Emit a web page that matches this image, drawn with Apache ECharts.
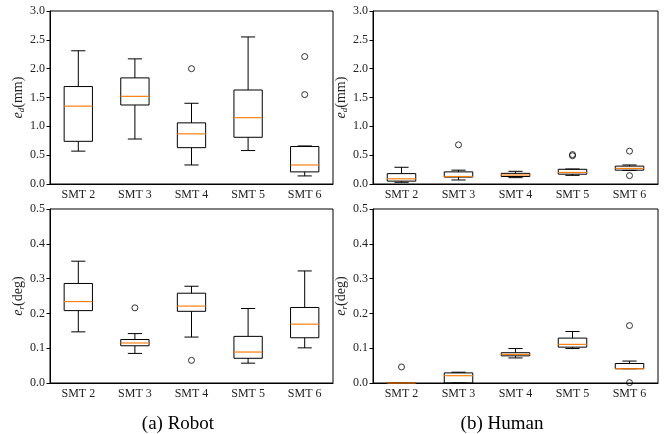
<!DOCTYPE html>
<html>
<head>
<meta charset="utf-8">
<script src="https://cdn.jsdelivr.net/npm/echarts@6/dist/echarts.min.js"></script>
<style>
html,body{margin:0;padding:0;background:#fff}
#chart{width:667px;height:434px}
</style>
</head>
<body>
<div id="chart"></div>
<script>
var categories = ['SMT 2', 'SMT 3', 'SMT 4', 'SMT 5', 'SMT 6'];

// each row: [lower whisker, Q1, median, Q3, upper whisker]
var robotDist = [
	[0.57, 0.74, 1.35, 1.69, 2.31],
	[0.78, 1.37, 1.52, 1.84, 2.17],
	[0.33, 0.63, 0.87, 1.06, 1.40],
	[0.58, 0.81, 1.15, 1.63, 2.55],
	[0.14, 0.21, 0.33, 0.65, 0.66]
];
var robotDistOutliers = [[2, 2.00], [4, 2.21], [4, 1.55]];

var humanDist = [
	[0.03, 0.05, 0.09, 0.18, 0.29],
	[0.07, 0.12, 0.13, 0.21, 0.24],
	[0.11, 0.13, 0.155, 0.185, 0.22],
	[0.15, 0.17, 0.20, 0.255, 0.26],
	[0.235, 0.24, 0.27, 0.31, 0.33]
];
var humanDistOutliers = [[1, 0.68], [3, 0.49], [3, 0.51], [4, 0.57], [4, 0.145]];

var robotRot = [
	[0.147, 0.208, 0.234, 0.286, 0.350],
	[0.085, 0.107, 0.115, 0.125, 0.142],
	[0.132, 0.206, 0.221, 0.258, 0.278],
	[0.057, 0.071, 0.089, 0.134, 0.214],
	[0.101, 0.130, 0.169, 0.217, 0.322]
];
var robotRotOutliers = [[1, 0.216], [2, 0.065]];

var humanRot = [
	[0, 0, 0, 0, 0],
	[0, 0, 0.021, 0.029, 0.031],
	[0.072, 0.078, 0.082, 0.087, 0.099],
	[0.099, 0.103, 0.111, 0.129, 0.148],
	[0.041, 0.041, 0.041, 0.056, 0.063]
];
var humanRotOutliers = [[0, 0.046], [4, 0.165], [4, 0.001]];

var serif = 'Liberation Serif';

function renderBox(params, api) {
	var idx = api.value(0);
	var low = api.coord([idx, api.value(1)]);
	var q1 = api.coord([idx, api.value(2)]);
	var med = api.coord([idx, api.value(3)]);
	var q3 = api.coord([idx, api.value(4)]);
	var high = api.coord([idx, api.value(5)]);
	var band = api.size([1, 0])[0];
	var half = band * 0.25;
	var cap = band * 0.125;
	var x = low[0];
	var black = {stroke: '#000', lineWidth: 1, fill: null};
	return {
		type: 'group',
		children: [
			{type: 'line', shape: {x1: x, y1: q1[1], x2: x, y2: low[1]}, style: black},
			{type: 'line', shape: {x1: x, y1: q3[1], x2: x, y2: high[1]}, style: black},
			{type: 'line', shape: {x1: x - cap, y1: low[1], x2: x + cap, y2: low[1]}, style: black},
			{type: 'line', shape: {x1: x - cap, y1: high[1], x2: x + cap, y2: high[1]}, style: black},
			{type: 'rect', shape: {x: x - half, y: q3[1], width: half * 2, height: q1[1] - q3[1]}, style: {stroke: '#000', lineWidth: 1, fill: 'none'}},
			{type: 'line', shape: {x1: x - half, y1: med[1], x2: x + half, y2: med[1]}, style: {stroke: '#ff7f0e', lineWidth: 1.2}}
		]
	};
}

function boxSeries(k, rows) {
	var data = rows.map(function(r, i){ return [i].concat(r); });
	return {
		type: 'custom',
		xAxisIndex: k,
		yAxisIndex: k,
		renderItem: renderBox,
		encode: {x: 0, y: [1, 2, 3, 4, 5]},
		data: data,
		clip: false,
		silent: true
	};
}

function outlierSeries(k, pts) {
	return {
		type: 'scatter',
		xAxisIndex: k,
		yAxisIndex: k,
		symbol: 'circle',
		symbolSize: 6,
		itemStyle: {color: 'rgba(0,0,0,0)', borderColor: '#000', borderWidth: 1},
		data: pts,
		z: 5,
		silent: true
	};
}

var grids = [
	{left: 50, right: 334, top: 11, height: 173},
	{left: 373, right: 9, top: 11, height: 173},
	{left: 50, right: 334, top: 209, height: 174},
	{left: 373, right: 9, top: 209, height: 174}
];
grids.forEach(function(g){
	g.show = true;
	g.borderColor = '#000';
	g.borderWidth = 1;
	g.backgroundColor = 'transparent';
});

var xAxes = [0, 1, 2, 3].map(function(k){
	return {
		type: 'category',
		gridIndex: k,
		data: categories,
		boundaryGap: true,
		axisLine: {lineStyle: {color: '#000', width: 1}},
		axisTick: {alignWithLabel: true, length: 3.5, lineStyle: {color: '#000'}},
		axisLabel: {fontFamily: serif, fontSize: 12, color: '#222', margin: 5},
		splitLine: {show: false}
	};
});

function yAxis(k, max, interval, unit, sub) {
	return {
		type: 'value',
		gridIndex: k,
		min: 0,
		max: max,
		interval: interval,
		name: '{e|e}{s|' + sub + '}{n|(' + unit + ')}',
		nameLocation: 'middle',
		nameGap: 23,
		nameRotate: 90,
		nameTextStyle: {
			rich: {
				e: {fontFamily: serif, fontStyle: 'italic', fontSize: 14, color: '#222'},
				s: {fontFamily: serif, fontStyle: 'italic', fontSize: 9, color: '#222', verticalAlign: 'bottom', padding: [7, 0, 0, 0]},
				n: {fontFamily: serif, fontSize: 14, color: '#222'}
			}
		},
		axisLine: {show: true, lineStyle: {color: '#000', width: 1}},
		axisTick: {show: true, length: 3.5, lineStyle: {color: '#000'}},
		axisLabel: {fontFamily: serif, fontSize: 12, color: '#222', margin: 5,
			formatter: function(v){ return v.toFixed(1); }},
		splitLine: {show: false}
	};
}

var chart = echarts.init(document.getElementById('chart'), null, {renderer: 'canvas'});
chart.setOption({
	animation: false,
	backgroundColor: '#fff',
	title: [
		{text: '(a) Robot', left: 173, top: 410, textAlign: 'center',
			textStyle: {fontFamily: serif, fontSize: 19, fontWeight: 'normal', color: '#000'}},
		{text: '(b) Human', left: 497, top: 410, textAlign: 'center',
			textStyle: {fontFamily: serif, fontSize: 19, fontWeight: 'normal', color: '#000'}}
	],
	grid: grids,
	xAxis: xAxes,
	yAxis: [
		yAxis(0, 3, 0.5, 'mm', 'd'),
		yAxis(1, 3, 0.5, 'mm', 'd'),
		yAxis(2, 0.5, 0.1, 'deg', 'r'),
		yAxis(3, 0.5, 0.1, 'deg', 'r')
	],
	series: [
		boxSeries(0, robotDist), outlierSeries(0, robotDistOutliers),
		boxSeries(1, humanDist), outlierSeries(1, humanDistOutliers),
		boxSeries(2, robotRot), outlierSeries(2, robotRotOutliers),
		boxSeries(3, humanRot), outlierSeries(3, humanRotOutliers)
	]
});
</script>
</body>
</html>
